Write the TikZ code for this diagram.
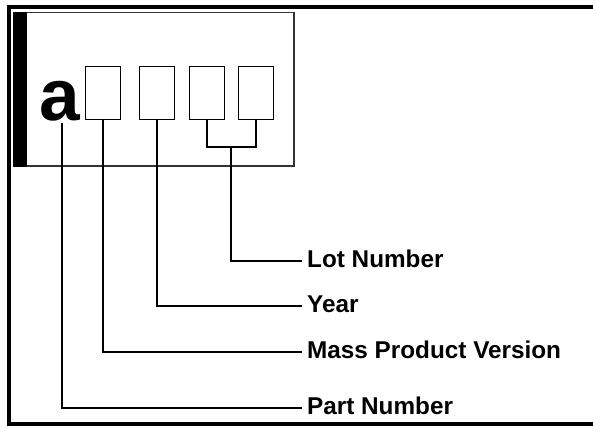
\documentclass[tikz,border=0pt]{standalone}
\usepackage{fontspec}
\setmainfont{Liberation Sans}
\usetikzlibrary{positioning}

\begin{document}
\begin{tikzpicture}[x=1pt, y=-1pt,
  digit/.style={rectangle, draw, line width=1.3pt, minimum width=35pt, minimum height=53pt, inner sep=0pt},
  fieldname/.style={anchor=west, inner xsep=5pt, inner ysep=0pt, text height=16pt, text depth=4pt,
    font=\fontsize{24.3}{25}\selectfont\bfseries},
  lead/.style={line width=1.2pt}
]
\useasboundingbox (0,0) rectangle (593,426);

% Outer frame (open to the right)
\draw[line width=4pt] (593,7) -- (9,7) -- (9,424) -- (593,424);

% Marking plate
\fill (13,12) rectangle (27,166.5);
\draw[line width=1.5pt, black!80] (27,12.5) -- (294,12.5) -- (294,166) -- (27,166);

% Part letter and code boxes
\node[anchor=base west, inner sep=0pt, outer ysep=2pt, font=\fontsize{73}{73}\selectfont\bfseries] (part) at (39,120) {a};
\node[digit] (ver) at (103,93) {};
\node[digit] (yr) at (157,93) {};
\node[digit] (lot1) at (207,93) {};
\node[digit] (lot2) at (256,93) {};

% Field names
\node[fieldname] (lotname) at (302,261) {Lot Number};
\node[fieldname] (yrname) at (302,306) {Year};
\node[fieldname] (vername) at (302,352) {Mass Product Version};
\node[fieldname] (partname) at (302,408) {Part Number};

% Leader lines
\coordinate (lotjoin) at (231,147);
\draw[lead] (lot1.south) |- (lotjoin) -| (lot2.south);
\draw[lead] (lotjoin) |- (lotname.west);
\draw[lead] (yr.south) |- (yrname.west);
\draw[lead] (ver.south) |- (vername.west);
\draw[lead] ([xshift=2.5pt]part.south) |- (partname.west);

\end{tikzpicture}
\end{document}
